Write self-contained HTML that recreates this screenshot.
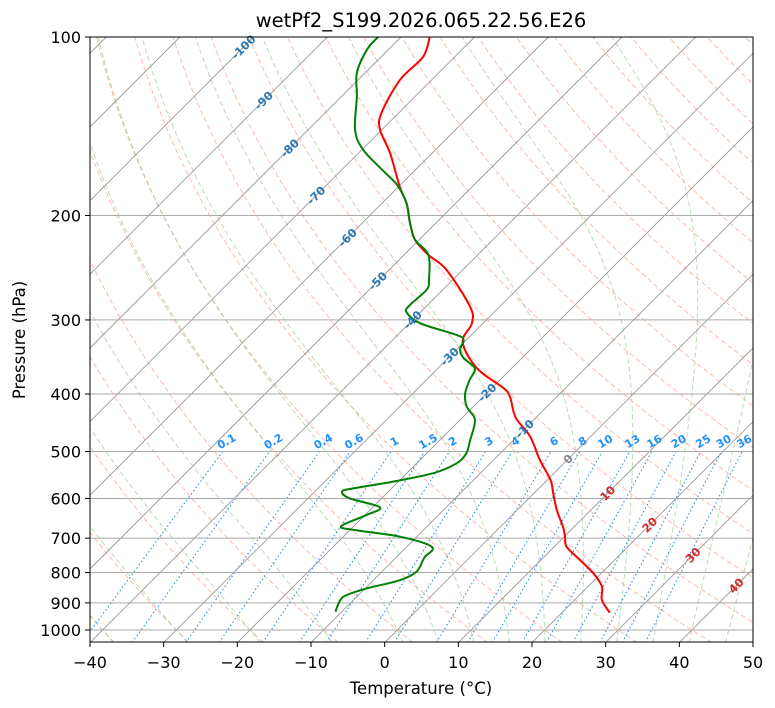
<!DOCTYPE html>
<html><head><meta charset="utf-8"><style>
body{margin:0;background:#fff;}
svg{display:block;font-family:"DejaVu Sans","Liberation Sans",sans-serif;}
</style></head><body>
<svg id="chart" width="775" height="708" viewBox="0 0 775 708">
<defs><clipPath id="clip"><rect x="90" y="37" width="663" height="605"/></clipPath></defs>
<text x="421" y="27" font-size="19.5" text-anchor="middle">wetPf2_S199.2026.065.22.56.E26</text>
<g id="bg" clip-path="url(#clip)"></g>
<g id="series" clip-path="url(#clip)"></g>
<g id="labels"></g>
<rect x="90" y="37" width="663" height="605" fill="none" stroke="#000" stroke-width="1"/>
<g id="axes"></g>
<text x="421" y="694" font-size="16.5" text-anchor="middle">Temperature (°C)</text>
<text x="25" y="340" font-size="16.5" text-anchor="middle" transform="rotate(-90 25 340)">Pressure (hPa)</text>
</svg>
<script>
const tempPressures=[935,890,845,802,762,724,696,670,628,588,558,517,472,442,426,404,391,362,327,304,285,247,233,220,206,191,179,157,143.5,134.5,118.2,108,100];
const tempValues=[26.5,23.7,21.9,18.9,15.3,11.7,10.1,8.5,5.4,2.6,0.4,-3.7,-8.2,-12.3,-14.1,-16.4,-18.4,-24.7,-30.2,-31.5,-34.0,-42.2,-46.7,-50.5,-53.5,-56.6,-59.8,-65.7,-70.2,-72.3,-74.3,-74.3,-76.1];
const dewPressures=[931,890,873,851,824,798,762,752,724,696,678,668,640,621,600,584,577,562,544,524,504,478,442,420,399,379,362,348,337,324,318,304,291,283,267,257,233,220,206,191,178,168,155,143.5,126,115,105,100];
const dewValues=[-10.9,-11.8,-11.6,-9.8,-6.4,-5.3,-6.0,-6.2,-6.6,-12.3,-19.5,-21.7,-19.8,-19.0,-24.3,-26.3,-25.2,-20.7,-16.4,-14.6,-14.6,-15.9,-18.0,-20.9,-22.9,-24.1,-25.0,-27.9,-29.5,-30.4,-32.0,-38.5,-41.9,-42.4,-42.2,-43.2,-46.7,-50.5,-53.5,-56.6,-60.3,-64.3,-69.8,-73.6,-77.9,-81.1,-82.9,-83.1];
const pressureTicks=[100,200,300,400,500,600,700,800,900,1000];
const tempTicks=[-40,-30,-20,-10,0,10,20,30,40,50];
const mixingRatios=[0.1,0.2,0.4,0.6,1,1.5,2,3,4,6,8,10,13,16,20,25,30,36];
const isoLabelTemps=[-100,-90,-80,-70,-60,-50,-40,-30,-20,-10,0,10,20,30,40];
const isoLabelPressures=[104,128,154,185,218,258,300,346,398,458,515,588,665,748,842];

const NS="http://www.w3.org/2000/svg";
const L=90,R=753,T=37,B=642.6,PX=663/90;
function Y(p){return T+593*Math.log10(p/100);}
function X(t,p){return L+(t+40)*PX+(B-Y(p));}
function mk(tag,attrs,parent){const e=document.createElementNS(NS,tag);for(const k in attrs)e.setAttribute(k,attrs[k]);parent.appendChild(e);return e;}
const bg=document.getElementById('bg'),ser=document.getElementById('series'),lab=document.getElementById('labels'),ax=document.getElementById('axes');
function polyD(pts){return pts.map((q,i)=>(i?'L':'M')+q[0].toFixed(2)+' '+q[1].toFixed(2)).join(' ');}
function smoothD(pts){let d='M'+pts[0][0]+' '+pts[0][1];for(let i=0;i<pts.length-1;i++){const p0=pts[Math.max(0,i-1)],p1=pts[i],p2=pts[i+1],p3=pts[Math.min(pts.length-1,i+2)];const c1=[p1[0]+(p2[0]-p0[0])/6,p1[1]+(p2[1]-p0[1])/6],c2=[p2[0]-(p3[0]-p1[0])/6,p2[1]-(p3[1]-p1[1])/6];d+=' C'+c1[0].toFixed(2)+' '+c1[1].toFixed(2)+' '+c2[0].toFixed(2)+' '+c2[1].toFixed(2)+' '+p2[0].toFixed(2)+' '+p2[1].toFixed(2);}return d;}
const plev=[];for(let p=1050;p>=100;p-=5)plev.push(p);

for(let t0=-40;t0<=200;t0+=10){const th=t0+273.15;const pts=plev.map(p=>[X(th*Math.pow(p/1000,0.2857)-273.15,p),Y(p)]);
const e=mk('path',{d:polyD(pts),fill:'none',stroke:'#f7a58f','stroke-width':1,'stroke-dasharray':'5 3',opacity:0.75},bg);
}
function es(tc){return 6.112*Math.exp(17.67*tc/(tc+243.5));}
function dTdp(Tk,p){const rs=0.622*es(Tk-273.15)/(p-es(Tk-273.15));const Rd=287.04,Cp=1005.7,Lv=2.501e6;return (Rd*Tk+Lv*rs)/(p*(Cp+Lv*Lv*rs*0.622/(Rd*Tk*Tk)));}
const moistStarts=[-40,-30,-20,-10,0,5,10,15,20,25,30,35,40,45,50];
moistStarts.forEach(t0=>{let pts=[];let Tk=t0+273.15,p=1000;const up=[[X(t0,1000),Y(1000)]];
while(p>100){const h=-2;Tk+=dTdp(Tk,p)*h;p+=h;up.push([X(Tk-273.15,p),Y(p)]);}
Tk=t0+273.15;p=1000;const dn=[];while(p<1050){Tk+=dTdp(Tk,p)*2;p+=2;dn.unshift([X(Tk-273.15,p),Y(p)]);}
pts=dn.concat(up);const e=mk('path',{d:polyD(pts),fill:'none',stroke:'#9fd19a','stroke-width':1,'stroke-dasharray':'5 3',opacity:0.75},bg);
});
function tdFromW(w,p){const e=w*p/(0.622+w);const l=Math.log(e/6.112);return 243.5*l/(17.67-l);}
mixingRatios.forEach(w=>{const pts=[1050,500].map(p=>[X(tdFromW(w/1000,p),p),Y(p)]);
const e=mk('path',{d:polyD(pts),fill:'none',stroke:'#2f8cf0','stroke-width':1.1,'stroke-dasharray':'1.5 2.5'},bg);

const lx=X(tdFromW(w/1000,485),485),ly=Y(485)+1;
const t=mk('text',{x:lx,y:ly,'font-size':11,'font-weight':'bold',fill:'#1e90ff','text-anchor':'middle',transform:`rotate(-30 ${lx} ${ly})`},lab);t.textContent=String(w);
});
for(let t=-150;t<=50;t+=10){const e=mk('line',{x1:X(t,1050),y1:Y(1050),x2:X(t,100),y2:Y(100),stroke:'#999','stroke-width':0.9},bg);
}
pressureTicks.forEach(p=>{const e=mk('line',{x1:L,x2:R,y1:Y(p),y2:Y(p),stroke:'#aaa','stroke-width':1},bg);

const tk=mk('line',{x1:L-5,x2:L,y1:Y(p),y2:Y(p),stroke:'#000'},ax);
const tx=mk('text',{x:L-9,y:Y(p)+6,'font-size':16,'text-anchor':'end'},ax);tx.textContent=p;});
tempTicks.forEach(t=>{const x=L+(t+40)*PX;const tk=mk('line',{x1:x,x2:x,y1:642,y2:647,stroke:'#000'},ax);
const tx=mk('text',{x:x,y:668,'font-size':16,'text-anchor':'middle'},ax);tx.textContent=(t<0?'\u2212'+(-t):t);});
isoLabelTemps.forEach((t,i)=>{const p=isoLabelPressures[i];const x=X(t,p),y=Y(p);const col=t<0?'#2a77b4':(t===0?'#888':'#d62728');
const tx=mk('text',{x:x,y:y+4,'font-size':11.5,'font-weight':'bold',fill:col,'text-anchor':'middle',transform:`rotate(-45 ${x} ${y})`},lab);tx.textContent=t;
});
const tp=mk('path',{d:smoothD(tempPressures.map((p,i)=>[X(tempValues[i],p),Y(p)])),fill:'none',stroke:'#ff0000','stroke-width':2},ser);

const dp=mk('path',{d:smoothD(dewPressures.map((p,i)=>[X(dewValues[i],p),Y(p)])),fill:'none',stroke:'#008000','stroke-width':2},ser);

</script>
</body></html>
